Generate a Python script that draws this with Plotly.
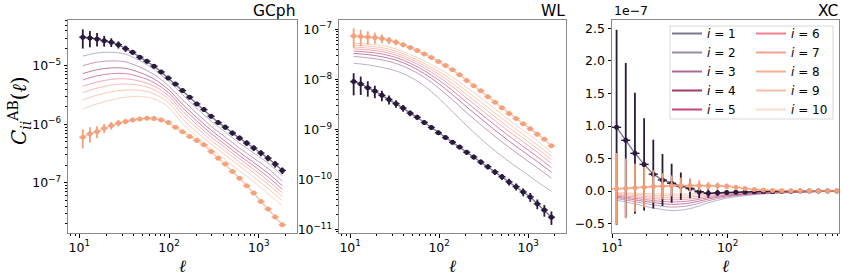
import numpy as np
import plotly.graph_objects as go

# ---------------- data ----------------
ell_edges = [10, 12.0, 14.41, 17.30, 20.77, 24.93, 29.93, 35.93, 43.13, 51.78, 62.15, 74.62,
             89.58, 107.5, 129.1, 155.0, 186.1, 223.4, 268.2, 321.9, 386.4, 463.9, 556.9,
             668.3, 802.4, 963.2, 1156, 1388, 1666, 2000]

# GCph
gc_auto_1 = [3.10e-5, 3.01e-5, 2.90e-5, 2.70e-5, 2.54e-5, 2.31e-5, 1.98e-5, 1.71e-5, 1.41e-5, 1.20e-5,
             9.9e-6, 7.9e-6, 6.2e-6, 4.9e-6, 3.78e-6, 2.92e-6, 2.24e-6, 1.79e-6, 1.38e-6, 1.07e-6,
             8.95e-7, 7.08e-7, 5.81e-7, 4.78e-7, 3.92e-7, 3.22e-7, 2.64e-7, 2.09e-7, 1.62e-7]
gc_auto_10 = [6.04e-7, 6.89e-7, 7.53e-7, 8.61e-7, 9.53e-7, 1.05e-6, 1.12e-6, 1.19e-6, 1.24e-6, 1.27e-6,
              1.26e-6, 1.19e-6, 1.08e-6, 8.89e-7, 7.45e-7, 6.18e-7, 5.28e-7, 4.47e-7, 3.43e-7, 2.64e-7,
              2.09e-7, 1.56e-7, 1.20e-7, 8.89e-8, 6.67e-8, 4.79e-8, 3.55e-8, 2.59e-8, 1.91e-8]
gc_relerr_1 = [0.36, 0.31, 0.26, 0.21, 0.17, 0.14, 0.12, 0.10, 0.09, 0.08, 0.08, 0.08, 0.08, 0.08, 0.08,
               0.08, 0.08, 0.09, 0.09, 0.09, 0.10, 0.10, 0.10, 0.11, 0.11, 0.12, 0.12, 0.13, 0.13]
gc_relerr_10 = [0.36, 0.29, 0.23, 0.18, 0.15, 0.12, 0.10, 0.09, 0.08, 0.07, 0.07, 0.06, 0.06, 0.06, 0.06,
                0.06, 0.06, 0.06, 0.06, 0.06, 0.06, 0.06, 0.06, 0.06, 0.06, 0.06, 0.06, 0.06, 0.06]
gc_theory = {
    2: [1.47e-5, 1.67e-5, 1.71e-5, 1.59e-5, 1.23e-5, 8.78e-6, 5.54e-6, 3.23e-6, 1.88e-6, 1.14e-6, 7.36e-7, 4.77e-7, 3.22e-7, 2.17e-7, 1.31e-7],
    3: [1.01e-5, 1.16e-5, 1.22e-5, 1.17e-5, 9.54e-6, 7.13e-6, 4.61e-6, 2.62e-6, 1.54e-6, 9.32e-7, 6.04e-7, 3.92e-7, 2.62e-7, 1.75e-7, 1.06e-7],
    4: [7.39e-6, 8.61e-6, 9.24e-6, 9.06e-6, 7.71e-6, 5.97e-6, 3.95e-6, 2.21e-6, 1.30e-6, 7.93e-7, 5.14e-7, 3.33e-7, 2.21e-7, 1.46e-7, 8.89e-8],
    5: [5.77e-6, 6.75e-6, 7.36e-6, 7.39e-6, 6.51e-6, 5.18e-6, 3.50e-6, 1.92e-6, 1.14e-6, 6.93e-7, 4.50e-7, 2.92e-7, 1.94e-7, 1.26e-7, 7.70e-8],
    6: [4.50e-6, 5.31e-6, 5.88e-6, 6.02e-6, 5.50e-6, 4.52e-6, 3.10e-6, 1.68e-6, 9.93e-7, 6.10e-7, 3.95e-7, 2.56e-7, 1.69e-7, 1.09e-7, 6.70e-8],
    7: [3.50e-6, 4.17e-6, 4.70e-6, 4.91e-6, 4.66e-6, 3.92e-6, 2.74e-6, 1.46e-6, 8.65e-7, 5.35e-7, 3.47e-7, 2.25e-7, 1.48e-7, 9.42e-8, 5.81e-8],
    8: [2.62e-6, 3.16e-6, 3.61e-6, 3.87e-6, 3.83e-6, 3.32e-6, 2.37e-6, 1.24e-6, 7.38e-7, 4.59e-7, 2.98e-7, 1.93e-7, 1.26e-7, 7.96e-8, 4.94e-8],
    9: [1.84e-6, 2.24e-6, 2.62e-6, 2.90e-6, 3.01e-6, 2.73e-6, 1.99e-6, 1.02e-6, 6.11e-7, 3.81e-7, 2.47e-7, 1.60e-7, 1.04e-7, 6.49e-8, 4.05e-8],
}

# WL
wl_auto_1 = [9.04e-9, 8.13e-9, 6.84e-9, 5.85e-9, 4.80e-9, 3.96e-9, 3.28e-9, 2.67e-9, 2.12e-9, 1.75e-9,
             1.38e-9, 1.10e-9, 8.59e-10, 6.90e-10, 5.56e-10, 4.46e-10, 3.52e-10, 2.82e-10, 2.24e-10, 1.81e-10,
             1.42e-10, 1.14e-10, 8.99e-11, 7.22e-11, 5.66e-11, 4.50e-11, 3.28e-11, 2.46e-11, 1.78e-11]
wl_auto_10 = [7.35e-8, 7.19e-8, 7.02e-8, 6.86e-8, 6.56e-8, 6.04e-8, 5.51e-8, 4.91e-8, 4.34e-8, 3.78e-8,
              3.22e-8, 2.74e-8, 2.28e-8, 1.90e-8, 1.55e-8, 1.23e-8, 9.55e-9, 7.43e-9, 5.90e-9, 4.48e-9,
              3.48e-9, 2.71e-9, 2.08e-9, 1.66e-9, 1.30e-9, 1.03e-9, 8.02e-10, 6.38e-10, 4.73e-10]
wl_relerr_1 = [0.47, 0.40, 0.34, 0.28, 0.24, 0.20, 0.17, 0.15, 0.13, 0.12, 0.11, 0.10, 0.10, 0.10, 0.10,
               0.10, 0.11, 0.11, 0.12, 0.12, 0.13, 0.14, 0.15, 0.16, 0.18, 0.20, 0.22, 0.26, 0.30]
wl_relerr_10 = [0.42, 0.36, 0.30, 0.25, 0.20, 0.16, 0.13, 0.11, 0.09, 0.08, 0.07, 0.06, 0.06, 0.05, 0.05,
                0.05, 0.05, 0.05, 0.05, 0.05, 0.05, 0.05, 0.05, 0.05, 0.05, 0.05, 0.05, 0.05, 0.05]
wl_theory = {
    2: [2.10e-8, 1.95e-8, 1.73e-8, 1.48e-8, 1.12e-8, 7.43e-9, 4.28e-9, 2.25e-9, 1.19e-9, 6.53e-10, 3.77e-10, 2.28e-10, 1.44e-10, 9.08e-11, 5.82e-11],
    3: [2.87e-8, 2.69e-8, 2.45e-8, 2.08e-8, 1.59e-8, 1.10e-8, 6.77e-9, 3.89e-9, 2.16e-9, 1.24e-9, 7.26e-10, 4.38e-10, 2.74e-10, 1.72e-10, 1.07e-10],
    4: [3.30e-8, 3.12e-8, 2.84e-8, 2.42e-8, 1.86e-8, 1.30e-8, 8.32e-9, 4.93e-9, 2.82e-9, 1.64e-9, 9.68e-10, 5.85e-10, 3.65e-10, 2.29e-10, 1.40e-10],
    5: [3.68e-8, 3.50e-8, 3.21e-8, 2.73e-8, 2.10e-8, 1.49e-8, 9.77e-9, 5.98e-9, 3.48e-9, 2.06e-9, 1.22e-9, 7.36e-10, 4.59e-10, 2.86e-10, 1.73e-10],
    6: [4.07e-8, 3.89e-8, 3.58e-8, 3.05e-8, 2.36e-8, 1.69e-8, 1.13e-8, 7.16e-9, 4.22e-9, 2.52e-9, 1.50e-9, 9.08e-10, 5.66e-10, 3.52e-10, 2.11e-10],
    7: [4.42e-8, 4.24e-8, 3.92e-8, 3.34e-8, 2.58e-8, 1.88e-8, 1.28e-8, 8.24e-9, 4.96e-9, 2.99e-9, 1.79e-9, 1.08e-9, 6.71e-10, 4.17e-10, 2.48e-10],
    8: [4.80e-8, 4.63e-8, 4.30e-8, 3.66e-8, 2.83e-8, 2.08e-8, 1.44e-8, 9.55e-9, 5.79e-9, 3.55e-9, 2.13e-9, 1.29e-9, 7.94e-10, 4.93e-10, 2.91e-10],
    9: [5.26e-8, 5.09e-8, 4.76e-8, 4.05e-8, 3.15e-8, 2.34e-8, 1.66e-8, 1.12e-8, 6.93e-9, 4.28e-9, 2.58e-9, 1.56e-9, 9.64e-10, 5.96e-10, 3.48e-10],
}

# XC (in units of 1e-7)
xc_auto_1_e7 = [0.98, 0.78, 0.58, 0.41, 0.26, 0.17, 0.12, 0.075, 0.04, -0.01, -0.035, -0.028, -0.022, -0.02,
                -0.015, -0.01, -0.008, -0.005, -0.003, -0.002, -0.001, -0.001, 0.0, 0.0, 0.0, 0.0, 0.0, 0.0, 0.0]
xc_auto_10_e7 = [0.035, 0.04, 0.05, 0.06, 0.07, 0.075, 0.08, 0.085, 0.085, 0.085, 0.08, 0.08, 0.075, 0.057,
                 0.038, 0.025, 0.015, 0.01, 0.006, 0.004, 0.003, 0.002, 0.001, 0.001, 0.0, 0.0, 0.0, 0.0, 0.0]
xc_err_1_e7 = [1.5, 1.19, 0.93, 0.71, 0.53, 0.40, 0.30, 0.21, 0.15, 0.10, 0.07, 0.05, 0.04, 0.03, 0.02,
               0.015, 0.01, 0.01, 0.008, 0.006, 0.005, 0.004, 0.003, 0.003, 0.002, 0.002, 0.002, 0.001, 0.001]
xc_err_10_e7 = [0.55, 0.46, 0.37, 0.31, 0.25, 0.20, 0.16, 0.12, 0.10, 0.08, 0.06, 0.05, 0.04, 0.03, 0.025,
                0.02, 0.015, 0.01, 0.008, 0.006, 0.005, 0.004, 0.003, 0.003, 0.002, 0.002, 0.002, 0.001, 0.001]
xc_theory_e7 = {
    2: [-0.14, -0.20, -0.26, -0.30, -0.27, -0.18, -0.11, -0.07, -0.045, -0.03, -0.02, -0.01, -0.005, -0.002, 0.0],
    3: [-0.115, -0.164, -0.213, -0.246, -0.221, -0.148, -0.09, -0.057, -0.037, -0.025, -0.016, -0.008, -0.004, -0.002, 0.0],
    4: [-0.095, -0.136, -0.177, -0.204, -0.184, -0.122, -0.075, -0.048, -0.031, -0.02, -0.014, -0.007, -0.003, -0.001, 0.0],
    5: [-0.078, -0.112, -0.146, -0.168, -0.151, -0.101, -0.062, -0.039, -0.025, -0.017, -0.011, -0.006, -0.003, -0.001, 0.0],
    6: [-0.063, -0.09, -0.117, -0.135, -0.122, -0.081, -0.05, -0.032, -0.02, -0.014, -0.009, -0.005, -0.002, -0.001, 0.0],
    7: [-0.049, -0.07, -0.091, -0.105, -0.095, -0.063, -0.039, -0.025, -0.016, -0.011, -0.007, -0.004, -0.002, -0.001, 0.0],
    8: [-0.035, -0.05, -0.065, -0.075, -0.068, -0.045, -0.028, -0.018, -0.011, -0.008, -0.005, -0.003, -0.001, 0.0, 0.0],
    9: [-0.022, -0.032, -0.042, -0.048, -0.043, -0.029, -0.018, -0.011, -0.007, -0.005, -0.003, -0.002, -0.001, 0.0, 0.0],
}

bin_ids = list(range(1, 11))
panel_titles = ["GCph", "WL", "XC"]

# ---------------- styling ----------------
line_colors = ['#7e7690', '#9e8aa6', '#a86b96', '#a03a6c', '#c8447a',
               '#ee8092', '#f6a08e', '#f6ae92', '#f5bea4', '#fadccc']
dark = '#2a1a3e'
orange = '#f5a07a'

edges = np.array(ell_edges)
lo, hi = edges[:-1], edges[1:]
ell = np.sqrt(lo * hi)
ell_th = ell[0::2]

fig = go.Figure()


def add_panel(ax, theory, auto1, auto10, err1, err10):
    xa, ya = (f"x{ax}", f"y{ax}") if ax > 1 else ("x", "y")
    for i in range(2, 10):
        fig.add_trace(go.Scatter(x=ell_th, y=theory[i], mode='lines',
                                 line=dict(color=line_colors[i - 1], width=1, shape='spline'),
                                 opacity=0.65, showlegend=False, xaxis=xa, yaxis=ya, hoverinfo='skip'))
    fig.add_trace(go.Scatter(x=ell, y=auto1, mode='lines', line=dict(color=line_colors[0], width=1.4),
                             showlegend=False, xaxis=xa, yaxis=ya, hoverinfo='skip'))
    fig.add_trace(go.Scatter(x=ell, y=auto10, mode='lines', line=dict(color=orange, width=1.4), opacity=0.6,
                             showlegend=False, xaxis=xa, yaxis=ya, hoverinfo='skip'))
    for vals, err, col in ((auto1, err1, dark), (auto10, err10, orange)):
        fig.add_trace(go.Scatter(
            x=ell, y=vals, mode='markers', marker=dict(color=col, size=5),
            error_y=dict(type='data', array=err, color=col, thickness=1.8, width=0),
            error_x=dict(type='data', symmetric=False, array=hi - ell, arrayminus=ell - lo,
                         color=col, thickness=1.4, width=0),
            showlegend=False, xaxis=xa, yaxis=ya))


add_panel(1, gc_theory, gc_auto_1, gc_auto_10,
          np.array(gc_auto_1) * np.array(gc_relerr_1), np.array(gc_auto_10) * np.array(gc_relerr_10))
add_panel(2, wl_theory, wl_auto_1, wl_auto_10,
          np.array(wl_auto_1) * np.array(wl_relerr_1), np.array(wl_auto_10) * np.array(wl_relerr_10))
add_panel(3, xc_theory_e7, xc_auto_1_e7, xc_auto_10_e7, xc_err_1_e7, xc_err_10_e7)

# legend entries: two columns -> two legends
for i in bin_ids:
    fig.add_trace(go.Scatter(x=[None], y=[None], mode='lines', line=dict(color=line_colors[i - 1], width=2),
                             name=f"<i>i</i> = {i}", showlegend=True,
                             legend='legend' if i <= 5 else 'legend2',
                             xaxis='x3', yaxis='y3'))

W, H = 843, 280


def px_x(p):
    return p / W


def px_y(p):
    return 1 - p / H


ydom = [px_y(233), px_y(20)]
xdoms = [[px_x(68), px_x(297)], [px_x(339), px_x(566)], [px_x(612), px_x(839)]]

tickfont = dict(family='DejaVu Sans', size=12.5, color='black')
common = dict(showline=True, mirror=True, linecolor='#8a8a8a', linewidth=1, ticks='outside', ticklen=3.5,
              tickwidth=0.8, tickcolor='black', showgrid=False, zeroline=False, tickfont=tickfont)


def minor_vals(e0, e1):
    return [m * 10 ** e for e in range(e0, e1) for m in range(2, 10)]


def sup(e):
    s = str(e).replace('-', '\u2212')
    return f"10<sup>{s}</sup>"


x_major = [10, 100, 1000]
x_text = [sup(1), sup(2), sup(3)]
logx = dict(type='log', tickvals=x_major, ticktext=x_text, ticklabelstandoff=-1,
            minor=dict(ticks='outside', ticklen=2, tickcolor='black', tickvals=minor_vals(0, 4), showgrid=False))

layout = dict(width=W, height=H, margin=dict(l=0, r=0, t=0, b=0, autoexpand=False),
              paper_bgcolor='white', plot_bgcolor='white', showlegend=True)
layout['xaxis'] = dict(domain=xdoms[0], anchor='y', range=[0.875, 3.425], **logx, **common)
layout['xaxis2'] = dict(domain=xdoms[1], anchor='y2', range=[0.875, 3.425], **logx, **common)
layout['xaxis3'] = dict(domain=xdoms[2], anchor='y3', range=[1.0, 2.963], **logx, **common)

gc_ticks = [1e-7, 1e-6, 1e-5]
layout['yaxis'] = dict(domain=ydom, anchor='x', type='log', range=[-7.86, -4.214],
                       tickvals=gc_ticks, ticktext=[sup(-7), sup(-6), sup(-5)],
                       minor=dict(ticks='outside', ticklen=2, tickcolor='black', tickvals=minor_vals(-8, -4), showgrid=False),
                       **common)
wl_ticks = [1e-11, 1e-10, 1e-9, 1e-8, 1e-7]
layout['yaxis2'] = dict(domain=ydom, anchor='x2', type='log', range=[-11.066, -6.815],
                        tickvals=wl_ticks, ticktext=[sup(-11), sup(-10), sup(-9), sup(-8), sup(-7)],
                        minor=dict(ticks='outside', ticklen=2, tickcolor='black', tickvals=minor_vals(-12, -6), showgrid=False),
                        **common)
xc_ticks = [-0.5, 0.0, 0.5, 1.0, 1.5, 2.0, 2.5]
layout['yaxis3'] = dict(domain=ydom, anchor='x3', range=[-0.645, 2.63], tickvals=xc_ticks,
                        ticktext=[f"{v:.1f}".replace('-', '\u2212') for v in xc_ticks], **common)

legend_common = dict(yanchor='top', xanchor='left', orientation='v', bgcolor='rgba(0,0,0,0)', borderwidth=0,
                     font=dict(family='DejaVu Sans', size=12, color='black'), itemwidth=30,
                     traceorder='normal', tracegroupgap=0)
layout['legend'] = dict(x=px_x(667), y=px_y(19), **legend_common)
layout['legend2'] = dict(x=px_x(751), y=px_y(19), **legend_common)

layout['shapes'] = [dict(type='rect', xref='paper', yref='paper', x0=px_x(670), x1=px_x(833),
                         y0=px_y(119), y1=px_y(26), fillcolor='white', line=dict(color='#d9d9d9', width=1),
                         layer='above')]

annotations = []
for k, t in enumerate(panel_titles):
    annotations.append(dict(text=t, x=xdoms[k][1], y=px_y(11.5), xref='paper', yref='paper', xanchor='right',
                            yanchor='middle', showarrow=False, borderpad=0,
                            font=dict(family='DejaVu Sans', size=15.5, color='black')))
    annotations.append(dict(text='<i>ℓ</i>', x=(xdoms[k][0] + xdoms[k][1]) / 2, y=px_y(266), xref='paper',
                            yref='paper', xanchor='center', yanchor='middle', showarrow=False, borderpad=0,
                            font=dict(family='DejaVu Serif', size=17, color='black')))
annotations.append(dict(text='1e\u22127', x=px_x(612), y=px_y(20), xref='paper', yref='paper', xanchor='left',
                        yanchor='bottom', showarrow=False, font=tickfont))
annotations.append(dict(text='<i>C</i><sub><i>ii</i></sub><sup>AB</sup>(<i>ℓ</i>)', x=px_x(20), y=px_y(111),
                        xref='paper', yref='paper', xanchor='center', yanchor='middle', textangle=-90,
                        showarrow=False, font=dict(family='DejaVu Serif', size=20, color='black')))
layout['annotations'] = annotations

fig.update_layout(**layout)
fig.write_html("out.html", config={'displayModeBar': False},
               post_script="document.body.style.margin='0';document.body.style.padding='0';")
